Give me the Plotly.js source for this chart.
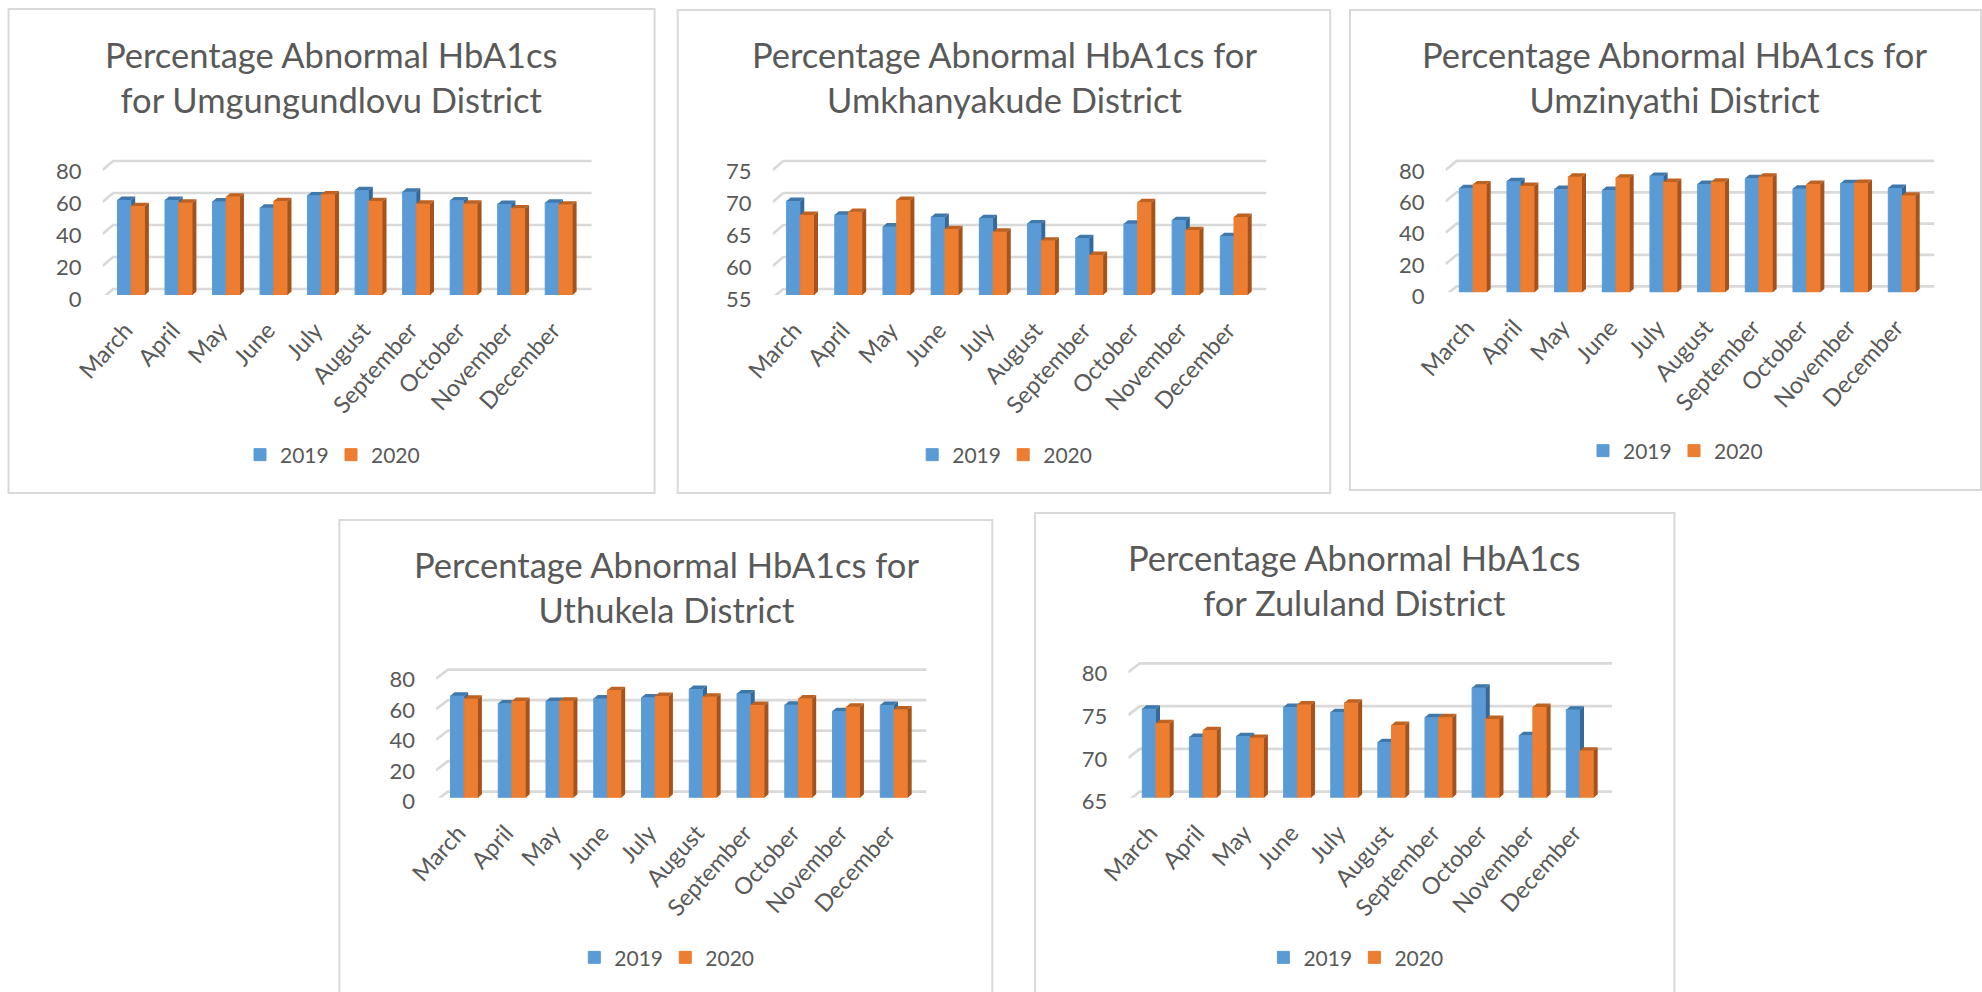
<!DOCTYPE html>
<html>
<head>
<meta charset="utf-8">
<script src="https://cdn.plot.ly/plotly-3.0.1.min.js"></script>
<style>html,body{margin:0;padding:0;background:#fff;overflow:hidden}#c{width:1982px;height:992px}</style>
</head>
<body>
<div id="c"></div>
<script>
const months = ['March','April','May','June','July','August','September','October','November','December'];

const umgungundlovu2019 = [59.4,59.4,58.5,54.6,62.3,65.6,64.6,59.2,56.9,57.7];
const umgungundlovu2020 = [55.6,57.7,61.5,58.7,62.9,58.7,57.1,57.1,54.2,56.5];
const umkhanyakude2019 = [69.7,67.55,65.7,67.2,67.0,66.2,63.9,66.15,66.7,64.2];
const umkhanyakude2020 = [67.5,68.0,69.85,65.3,64.9,63.5,61.25,69.5,65.15,67.2];
const umzinyathi2019 = [66.4,71.0,66.0,65.3,74.3,69.1,72.8,66.2,69.6,66.6];
const umzinyathi2020 = [68.9,67.9,73.8,73.2,70.4,70.6,73.8,69.1,69.8,61.7];
const uthukela2019 = [66.9,61.9,63.4,65.1,65.8,71.3,68.4,61.0,56.8,60.8];
const uthukela2020 = [64.9,63.4,63.6,70.6,66.7,66.2,60.8,65.1,59.7,57.9];
const zululand2019 = [75.4,72.1,72.2,75.6,75.0,71.5,74.4,77.85,72.3,75.3];
const zululand2020 = [73.7,72.9,72.0,75.9,76.1,73.5,74.4,74.2,75.6,70.5];

const ticks0to80 = [0,20,40,60,80];
const ticks55to75 = [55,60,65,70,75];
const ticks65to80 = [65,70,75,80];

const titles = [
  'Percentage Abnormal HbA1cs<br>for Umgungundlovu District',
  'Percentage Abnormal HbA1cs for<br>Umkhanyakude District',
  'Percentage Abnormal HbA1cs for<br>Umzinyathi District',
  'Percentage Abnormal HbA1cs for<br>Uthukela District',
  'Percentage Abnormal HbA1cs<br>for Zululand District'
];
const seriesNames = ['2019','2020'];

const W = 1982, H = 992;
const FONT = 'Lato, "Open Sans", sans-serif';
const TEXT = '#595959', GRID = '#d9d9d9', BORDER = '#d9d9d9';
const FRONT = ['#5B9BD5','#ED7D31'], SIDE = ['#34699A','#A5531D'], TOP = ['#3F78AB','#BE6222'];

// layout only (pixels)
const panels = [
  {a:umgungundlovu2019,b:umgungundlovu2020,t:ticks0to80,box:[8.5,9,654.6,493],gF:102.6,gB:113.2,gR:591.8,zero:295,unit:1.6,c0:131.2,c9:558.9,tx:331.6,ty:77,lx:331,ly:455},
  {a:umkhanyakude2019,b:umkhanyakude2020,t:ticks55to75,box:[677.7,10,1330.2,493],gF:772.6,gB:783.2,gR:1266.5,zero:295,unit:6.4,c0:800.3,c9:1234,tx:1004.2,ty:77,lx:1003.2,ly:455},
  {a:umzinyathi2019,b:umzinyathi2020,t:ticks0to80,box:[1350,10,1981,490],gF:1445.6,gB:1456.7,gR:1934.5,zero:292.3,unit:1.567,c0:1473,c9:1902,tx:1674.7,ty:77,lx:1674,ly:451},
  {a:uthukela2019,b:uthukela2020,t:ticks0to80,box:[339.4,520,992.3,1010],gF:436,gB:447.9,gR:926.5,zero:797.7,unit:1.525,c0:464.2,c9:894,tx:666,ty:587,lx:665.3,ly:957.7},
  {a:zululand2019,b:zululand2020,t:ticks65to80,box:[1035,513,1674.4,1010],gF:1128.3,gB:1139.8,gR:1612,zero:797.7,unit:8.56,c0:1156,c9:1580,tx:1354.8,ty:580,lx:1354.4,ly:957.7}
];

const BAR_W = 13.7, BAR_DX = 4, BAR_DY = 3.4, FLOOR_FRONT = 3, FLOOR_BACK = 6;
const traces = [];
const layout = {
  width:W, height:H, autosize:false, showlegend:true,
  margin:{l:0,r:0,t:0,b:0,autoexpand:false},
  paper_bgcolor:'#fff', plot_bgcolor:'rgba(0,0,0,0)',
  font:{family:FONT,color:TEXT}, barmode:'overlay',
  shapes:[], annotations:[]
};

panels.forEach((p,k)=>{
  const n = k===0?'':String(k+1);
  const xa='x'+n, ya='y'+n;
  const s=(p.c9-p.c0)/9, lo=p.t[0], hi=p.t[p.t.length-1];
  const topPx=p.zero-(hi-lo)*p.unit-FLOOR_BACK-4;
  const hiR=lo+(p.zero-topPx)/p.unit;
  const w=BAR_W/s, dx=BAR_DX/s, dy=BAR_DY/p.unit;
  const xL=(p.gF-p.c0)/s, xBack=(p.gB-p.c0)/s, xR=(p.gR-p.c0)/s;

  layout['xaxis'+n]={domain:[p.gF/W,p.gR/W],range:[xL,xR],anchor:ya,tickmode:'array',
    tickvals:months.map((_,i)=>i),ticktext:months,tickangle:-48,ticks:'',showgrid:false,zeroline:false,showline:false,
    ticklabelstandoff:16,ticklabelshift:-6,tickfont:{family:FONT,size:23.5,color:TEXT},fixedrange:true};
  layout['yaxis'+n]={domain:[1-p.zero/H,1-topPx/H],range:[lo,hiR],anchor:xa,tickmode:'array',
    tickvals:p.t,ticktext:p.t.map(String),ticks:'',showgrid:false,zeroline:false,showline:false,
    ticklabelstandoff:20,ticklabelshift:4,tickfont:{family:FONT,size:22,color:TEXT},fixedrange:true};

  // back wall + floor gridlines
  const gx=[],gy=[];
  p.t.forEach(t=>{
    gx.push(xL,xBack,xR,null);
    gy.push(t-FLOOR_FRONT/p.unit,t+FLOOR_BACK/p.unit,t+FLOOR_BACK/p.unit,null);
  });
  traces.push({type:'scatter',mode:'lines',x:gx,y:gy,xaxis:xa,yaxis:ya,line:{color:GRID,width:2.7},
    cliponaxis:false,showlegend:false,hoverinfo:'skip',zorder:0});

  [p.a,p.b].forEach((vals,si)=>{
    const z=si+1, off=si===0?-w:0;
    traces.push({type:'bar',name:seriesNames[si],x:months.map((_,i)=>i),y:vals,width:w,offset:off,xaxis:xa,yaxis:ya,
      marker:{color:FRONT[si],line:{width:1,color:FRONT[si]}},legend:'legend'+(k===0?'':k+1),showlegend:true,zorder:z});
    const sx=[],sy=[],tx=[],ty=[];
    vals.forEach((v,i)=>{
      const l=i+off, r=l+w;
      sx.push(r,r+dx,r+dx,r,null); sy.push(lo,lo+dy,v+dy,v,null);
      tx.push(l,r,r+dx,l+dx,null); ty.push(v,v,v+dy,v+dy,null);
    });
    [[sx,sy,SIDE[si]],[tx,ty,TOP[si]]].forEach(f=>{
      traces.push({type:'scatter',mode:'lines',x:f[0],y:f[1],xaxis:xa,yaxis:ya,fill:'toself',fillcolor:f[2],
        line:{width:0,color:f[2]},showlegend:false,hoverinfo:'skip',zorder:z});
    });
  });

  layout['legend'+(k===0?'':k+1)]={orientation:'h',x:p.lx/W,y:1-p.ly/H,xanchor:'center',yanchor:'middle',
    xref:'paper',yref:'paper',bgcolor:'rgba(0,0,0,0)',font:{family:FONT,size:21,color:TEXT},itemwidth:30,
    entrywidth:46,entrywidthmode:'pixels',itemclick:false,itemdoubleclick:false};

  layout.shapes.push({type:'rect',xref:'paper',yref:'paper',x0:p.box[0]/W,x1:p.box[2]/W,y0:1-p.box[3]/H,y1:1-p.box[1]/H,
    line:{color:BORDER,width:2},fillcolor:'rgba(0,0,0,0)',layer:'below'});
  layout.annotations.push({xref:'paper',yref:'paper',x:p.tx/W,y:1-p.ty/H,xanchor:'center',yanchor:'middle',showarrow:false,
    text:titles[k],align:'center',font:{family:FONT,size:34.5,color:TEXT}});
});

Plotly.newPlot('c',traces,layout,{displayModeBar:false,staticPlot:true});
</script>
</body>
</html>
